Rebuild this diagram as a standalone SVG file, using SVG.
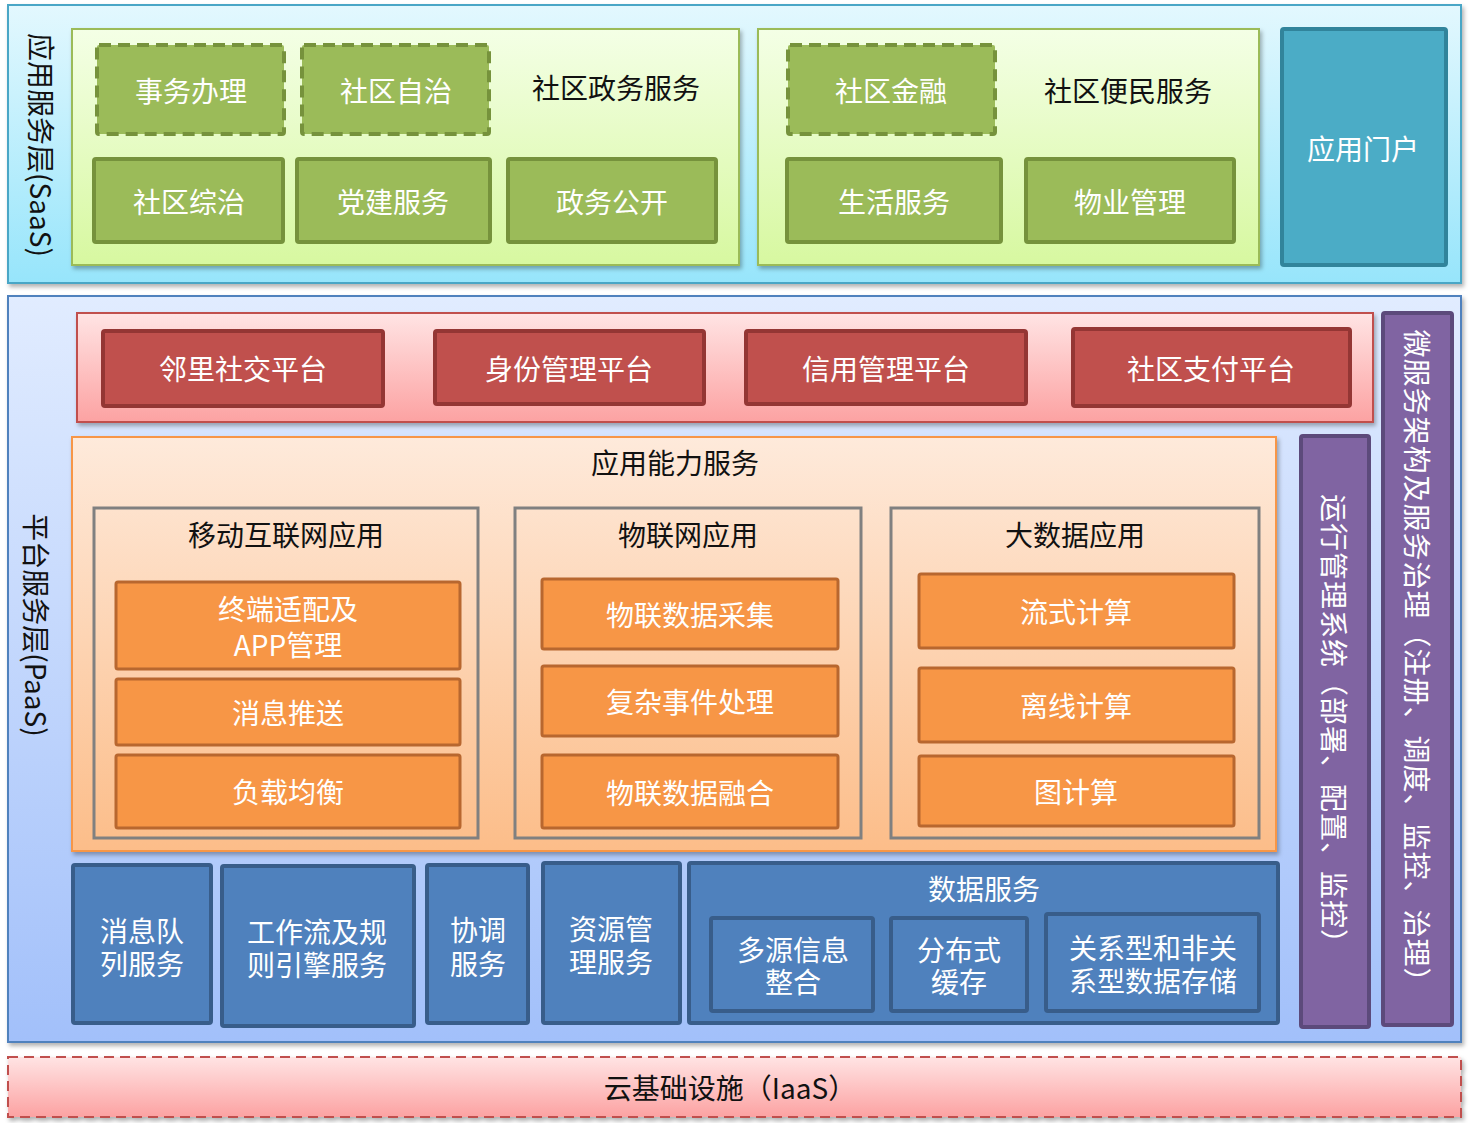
<svg xmlns="http://www.w3.org/2000/svg" width="1469" height="1132" viewBox="0 0 1469 1132">
<defs>
<linearGradient id="gSaas" x1="0" y1="0" x2="0" y2="1"><stop offset="0" stop-color="#e3f8fe"/><stop offset="1" stop-color="#97e5fb"/></linearGradient>
<linearGradient id="gGreen" x1="0" y1="0" x2="0" y2="1"><stop offset="0" stop-color="#f4ffe6"/><stop offset="1" stop-color="#d7f8a0"/></linearGradient>
<linearGradient id="gPaas" x1="0" y1="0" x2="0" y2="1"><stop offset="0" stop-color="#e1ecff"/><stop offset="1" stop-color="#a2c0fa"/></linearGradient>
<linearGradient id="gRed" x1="0" y1="0" x2="0" y2="1"><stop offset="0" stop-color="#ffe4e4"/><stop offset="1" stop-color="#fca2a2"/></linearGradient>
<linearGradient id="gOrange" x1="0" y1="0" x2="0" y2="1"><stop offset="0" stop-color="#feeadb"/><stop offset="1" stop-color="#fcbd89"/></linearGradient>
<filter id="sh" x="-5%" y="-5%" width="110%" height="115%"><feDropShadow dx="2" dy="3" stdDeviation="2" flood-color="#000" flood-opacity="0.3"/></filter>
<style>
text{font-family:"Noto Sans CJK SC","Microsoft YaHei","DejaVu Sans",sans-serif;font-size:28px;text-anchor:middle;dominant-baseline:central;}
.w{fill:#ffffff;}
.k{fill:#111111;}
.gbox{fill:#9bbb59;stroke:#76923c;stroke-width:4;}
.gdash{fill:#9bbb59;stroke:#76923c;stroke-width:4;stroke-dasharray:12 7;}
.rbox{fill:#c0504d;stroke:#943634;stroke-width:4;}
.obox{fill:#f79646;stroke:#b8672f;stroke-width:3;}
.gray{fill:none;stroke:#808080;stroke-width:3;}
.bbox{fill:#4f81bd;stroke:#385d8a;stroke-width:4;}
.pbox{fill:#8064a2;stroke:#5c4a7b;stroke-width:4;}
.vt{letter-spacing:1px;}
</style>
</defs>

<!-- SaaS layer -->
<g id="saas-layer">
<rect x="8" y="5" width="1453" height="278" fill="url(#gSaas)" stroke="#4aa6c6" stroke-width="2" filter="url(#sh)"/>
<text class="k" transform="translate(42,145) rotate(90)" font-size="26">应用服务层(SaaS)</text>
</g>

<g id="gov-panel">
<rect x="72" y="29" width="667" height="236" fill="url(#gGreen)" stroke="#9bbb59" stroke-width="2" filter="url(#sh)"/>
<text class="k" x="616" y="87">社区政务服务</text>
</g>
<g id="n-shiwu"><rect class="gdash" x="97" y="45" width="187" height="89" rx="2"/><text class="w" x="191" y="90">事务办理</text></g>
<g id="n-zizhi"><rect class="gdash" x="302" y="45" width="187" height="89" rx="2"/><text class="w" x="396" y="90">社区自治</text></g>
<g id="n-zongzhi"><rect class="gbox" x="94" y="159" width="189" height="83" rx="2"/><text class="w" x="189" y="201">社区综治</text></g>
<g id="n-dangjian"><rect class="gbox" x="297" y="159" width="193" height="83" rx="2"/><text class="w" x="393" y="201">党建服务</text></g>
<g id="n-zhengwu"><rect class="gbox" x="508" y="159" width="208" height="83" rx="2"/><text class="w" x="612" y="201">政务公开</text></g>

<g id="bianmin-panel">
<rect x="758" y="29" width="501" height="236" fill="url(#gGreen)" stroke="#9bbb59" stroke-width="2" filter="url(#sh)"/>
<text class="k" x="1128" y="90">社区便民服务</text>
</g>
<g id="n-jinrong"><rect class="gdash" x="788" y="45" width="207" height="89" rx="2"/><text class="w" x="891" y="90">社区金融</text></g>
<g id="n-shenghuo"><rect class="gbox" x="787" y="159" width="214" height="83" rx="2"/><text class="w" x="894" y="201">生活服务</text></g>
<g id="n-wuye"><rect class="gbox" x="1026" y="159" width="208" height="83" rx="2"/><text class="w" x="1130" y="201">物业管理</text></g>

<g id="n-menhu"><rect x="1282" y="29" width="164" height="236" fill="#4bacc6" stroke="#31849b" stroke-width="4" rx="2"/><text class="w" x="1363" y="148">应用门户</text></g>

<!-- PaaS layer -->
<g id="paas-layer">
<rect x="8" y="296" width="1453" height="746" fill="url(#gPaas)" stroke="#4f81bd" stroke-width="2" filter="url(#sh)"/>
<text class="k" transform="translate(37,625) rotate(90)" font-size="26">平台服务层(PaaS)</text>
</g>

<g id="platform-panel">
<rect x="77" y="313" width="1296" height="109" fill="url(#gRed)" stroke="#c0504d" stroke-width="2" filter="url(#sh)"/>
</g>
<g id="n-linli"><rect class="rbox" x="103" y="331" width="280" height="75" rx="2"/><text class="w" x="243" y="368">邻里社交平台</text></g>
<g id="n-shenfen"><rect class="rbox" x="435" y="331" width="269" height="73" rx="2"/><text class="w" x="569" y="368">身份管理平台</text></g>
<g id="n-xinyong"><rect class="rbox" x="746" y="331" width="280" height="73" rx="2"/><text class="w" x="886" y="368">信用管理平台</text></g>
<g id="n-zhifu"><rect class="rbox" x="1073" y="329" width="277" height="77" rx="2"/><text class="w" x="1211" y="368">社区支付平台</text></g>

<g id="capability-panel">
<rect x="72" y="437" width="1204" height="414" fill="url(#gOrange)" stroke="#f79646" stroke-width="2" filter="url(#sh)"/>
<text class="k" x="675" y="462">应用能力服务</text>
</g>

<g id="mobile-group">
<rect class="gray" x="94" y="508" width="384" height="330"/>
<text class="k" x="286" y="534">移动互联网应用</text>
</g>
<g id="n-zhongduan"><rect class="obox" x="116" y="582" width="344" height="87" rx="2"/><text class="w" x="288" y="608">终端适配及<tspan x="288" dy="36">APP管理</tspan></text></g>
<g id="n-tuisong"><rect class="obox" x="116" y="679" width="344" height="66" rx="2"/><text class="w" x="288" y="712">消息推送</text></g>
<g id="n-fuzai"><rect class="obox" x="116" y="755" width="344" height="73" rx="2"/><text class="w" x="288" y="791">负载均衡</text></g>

<g id="iot-group">
<rect class="gray" x="515" y="508" width="346" height="330"/>
<text class="k" x="688" y="534">物联网应用</text>
</g>
<g id="n-caiji"><rect class="obox" x="542" y="579" width="296" height="70" rx="2"/><text class="w" x="690" y="614">物联数据采集</text></g>
<g id="n-fuza"><rect class="obox" x="542" y="666" width="296" height="70" rx="2"/><text class="w" x="690" y="701">复杂事件处理</text></g>
<g id="n-ronghe"><rect class="obox" x="542" y="755" width="296" height="73" rx="2"/><text class="w" x="690" y="792">物联数据融合</text></g>

<g id="bigdata-group">
<rect class="gray" x="891" y="508" width="368" height="330"/>
<text class="k" x="1075" y="534">大数据应用</text>
</g>
<g id="n-liushi"><rect class="obox" x="919" y="574" width="315" height="74" rx="2"/><text class="w" x="1076" y="611">流式计算</text></g>
<g id="n-lixian"><rect class="obox" x="919" y="668" width="315" height="74" rx="2"/><text class="w" x="1076" y="705">离线计算</text></g>
<g id="n-tujisuan"><rect class="obox" x="919" y="756" width="315" height="70" rx="2"/><text class="w" x="1076" y="791">图计算</text></g>

<g id="n-xiaoxi"><rect class="bbox" x="73" y="865" width="138" height="158" rx="2"/><text class="w" x="142" y="930">消息队<tspan x="142" dy="33">列服务</tspan></text></g>
<g id="n-gongzuoliu"><rect class="bbox" x="222" y="866" width="192" height="160" rx="2"/><text class="w" x="317" y="931">工作流及规<tspan x="317" dy="33">则引擎服务</tspan></text></g>
<g id="n-xietiao"><rect class="bbox" x="427" y="865" width="101" height="158" rx="2"/><text class="w" x="478" y="929">协调<tspan x="478" dy="34">服务</tspan></text></g>
<g id="n-ziyuan"><rect class="bbox" x="543" y="863" width="137" height="160" rx="2"/><text class="w" x="611" y="928">资源管<tspan x="611" dy="33">理服务</tspan></text></g>

<g id="n-shuju">
<rect class="bbox" x="689" y="863" width="589" height="160" rx="2"/>
<text class="w" x="984" y="888">数据服务</text>
</g>
<g id="n-duoyuan"><rect class="bbox" x="711" y="918" width="162" height="93" rx="2"/><text class="w" x="793" y="949">多源信息<tspan x="793" dy="32">整合</tspan></text></g>
<g id="n-fenbushi"><rect class="bbox" x="891" y="918" width="136" height="93" rx="2"/><text class="w" x="959" y="949">分布式<tspan x="959" dy="32">缓存</tspan></text></g>
<g id="n-guanxi"><rect class="bbox" x="1046" y="914" width="213" height="97" rx="2"/><text class="w" x="1153" y="947">关系型和非关<tspan x="1153" dy="33">系型数据存储</tspan></text></g>

<g id="n-yunxing"><rect class="pbox" x="1301" y="436" width="68" height="591" rx="2"/><text class="w vt" transform="translate(1335,726) rotate(90)">运行管理系统（部署、配置、监控）</text></g>
<g id="n-weifuwu"><rect class="pbox" x="1383" y="313" width="69" height="712" rx="2"/><text class="w vt" transform="translate(1418,663) rotate(90)">微服务架构及服务治理（注册、调度、监控、治理）</text></g>

<!-- IaaS -->
<g id="n-iaas">
<rect x="8" y="1057" width="1453" height="60" fill="url(#gRed)" stroke="#c0504d" stroke-width="2" stroke-dasharray="10 6" filter="url(#sh)"/>
<text class="k" x="730" y="1087">云基础设施（IaaS）</text>
</g>

<g id="connectors"></g>
</svg>
